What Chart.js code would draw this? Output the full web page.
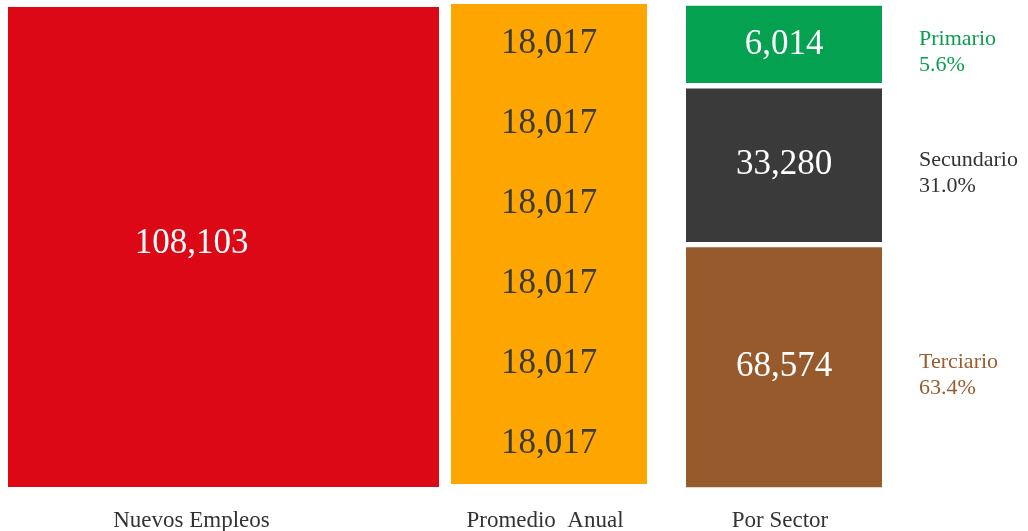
<!DOCTYPE html>
<html>
<head>
<meta charset="utf-8">
<script src="https://cdn.jsdelivr.net/npm/chart.js@4/dist/chart.umd.min.js"></script>
<style>
html, body { margin: 0; padding: 0; background: #fff; }
#wrap { position: relative; width: 1028px; height: 531px; }
.box { position: absolute; top: 0; height: 531px; }
</style>
</head>
<body>
<div id="wrap">
    <div class="box" style="left:0;width:450px"><canvas id="c1"></canvas></div>
    <div class="box" style="left:450px;width:210px"><canvas id="c2"></canvas></div>
    <div class="box" style="left:660px;width:368px"><canvas id="c3"></canvas></div>
</div>
<script>
// ---------- Data ----------
const categories = ["Nuevos Empleos", "Promedio  Anual", "Por Sector"];
const totalJobs = 108103;
const yearlyAverage = [18017, 18017, 18017, 18017, 18017, 18017];
const sectorNames = ["Primario", "Secundario", "Terciario"];
const sectorValues = [6014, 33280, 68574];
const sectorShares = ["5.6%", "31.0%", "63.4%"];
// share of the column height each sector block takes in the picture (%)
const sectorHeights = [17, 32.6, 50.4];

const RED = "#dd0815", ORANGE = "#ffa500";
const sectorColors = ["#03a150", "#3a3a3a", "#965a2c"];
const sectorTextColors = ["#0aa050", "#333333", "#9a5c2e"];
const SERIF = "'Liberation Serif', 'Times New Roman', serif";

const fmt = v => v.toLocaleString("en-US");

// ---------- Plugins ----------
const valueLabels = {
    id: "valueLabels",
    afterDatasetsDraw(chart, args, opts) {
        const ctx = chart.ctx;
        ctx.save();
        ctx.font = `35px ${SERIF}`;
        ctx.textAlign = "center";
        ctx.textBaseline = "middle";
        chart.data.datasets.forEach((ds, i) => {
            chart.getDatasetMeta(i).data.forEach(bar => {
                ctx.fillStyle = ds.labelColor;
                ctx.fillText(fmt(ds.shown), bar.x + (opts.dx || 0), (bar.y + bar.base) / 2 + (opts.dy || 0));
            });
        });
        ctx.restore();
    }
};

const sectorLegend = {
    id: "sectorLegend",
    afterDatasetsDraw(chart) {
        const ctx = chart.ctx;
        const x = chart.chartArea.right + 37;
        ctx.save();
        ctx.font = `22px ${SERIF}`;
        ctx.textAlign = "left";
        ctx.textBaseline = "middle";
        chart.data.datasets.forEach((ds, i) => {
            const bar = chart.getDatasetMeta(i).data[0];
            const cy = (bar.y + bar.base) / 2;
            ctx.fillStyle = ds.legendColor;
            ctx.fillText(ds.label, x, cy - 5);
            ctx.fillText(ds.share, x, cy + 21);
        });
        ctx.restore();
    }
};

// bottom = pixel where the bars end, the category label sits at y ~519
function baseOptions(maxY, pad, bottom, labelOffset, labels) {
    return {
        responsive: true,
        maintainAspectRatio: false,
        animation: false,
        layout: { padding: pad },
        plugins: {
            legend: { display: false },
            tooltip: { enabled: false },
            valueLabels: labels || {}
        },
        scales: {
            x: {
                stacked: true,
                grid: { display: false, drawTicks: false },
                border: { display: false },
                ticks: {
                    color: "#333",
                    font: { family: SERIF, size: 23 },
                    padding: 20 + (487 - bottom),
                    maxRotation: 0,
                    labelOffset: labelOffset
                },
                afterFit: s => {
                    s.height = 531 - bottom;
                    s.paddingLeft = 0;
                    s.paddingRight = 0;
                }
            },
            y: { stacked: true, display: false, min: 0, max: maxY }
        }
    };
}

// ---------- Nuevos Empleos ----------
new Chart(document.getElementById("c1"), {
    type: "bar",
    data: {
        labels: [categories[0]],
        datasets: [{
            data: [totalJobs],
            shown: totalJobs,
            labelColor: "#ffffff",
            backgroundColor: RED,
            barPercentage: 1,
            categoryPercentage: 1
        }]
    },
    options: baseOptions(totalJobs, { top: 7, left: 8, right: 11, bottom: 0 }, 487, -32, { dx: -32, dy: -3 }),
    plugins: [valueLabels]
});

// ---------- Promedio Anual ----------
const avgSum = yearlyAverage.reduce((a, b) => a + b, 0);
new Chart(document.getElementById("c2"), {
    type: "bar",
    data: {
        labels: [categories[1]],
        datasets: yearlyAverage.map(v => ({
            data: [v],
            shown: v,
            labelColor: "#3a3a3a",
            backgroundColor: ORANGE,
            barPercentage: 1,
            categoryPercentage: 1
        }))
    },
    options: baseOptions(avgSum, { top: 4, left: 1, right: 13, bottom: 0 }, 484, -4),
    plugins: [valueLabels]
});

// ---------- Por Sector ----------
const sectorOrder = [2, 1, 0]; // stacked from the bottom up
new Chart(document.getElementById("c3"), {
    type: "bar",
    data: {
        labels: [categories[2]],
        datasets: sectorOrder.map(k => ({
            label: sectorNames[k],
            data: [sectorHeights[k]],
            shown: sectorValues[k],
            share: sectorShares[k],
            labelColor: "#ffffff",
            legendColor: sectorTextColors[k],
            backgroundColor: sectorColors[k],
            borderColor: "#ffffff",
            borderWidth: { top: 3, bottom: 3, left: 0, right: 0 },
            borderSkipped: false,
            barPercentage: 1,
            categoryPercentage: 1
        }))
    },
    options: baseOptions(100, { top: 3, left: 26, right: 146, bottom: 0 }, 490, -4),
    plugins: [valueLabels, sectorLegend]
});
</script>
</body>
</html>
